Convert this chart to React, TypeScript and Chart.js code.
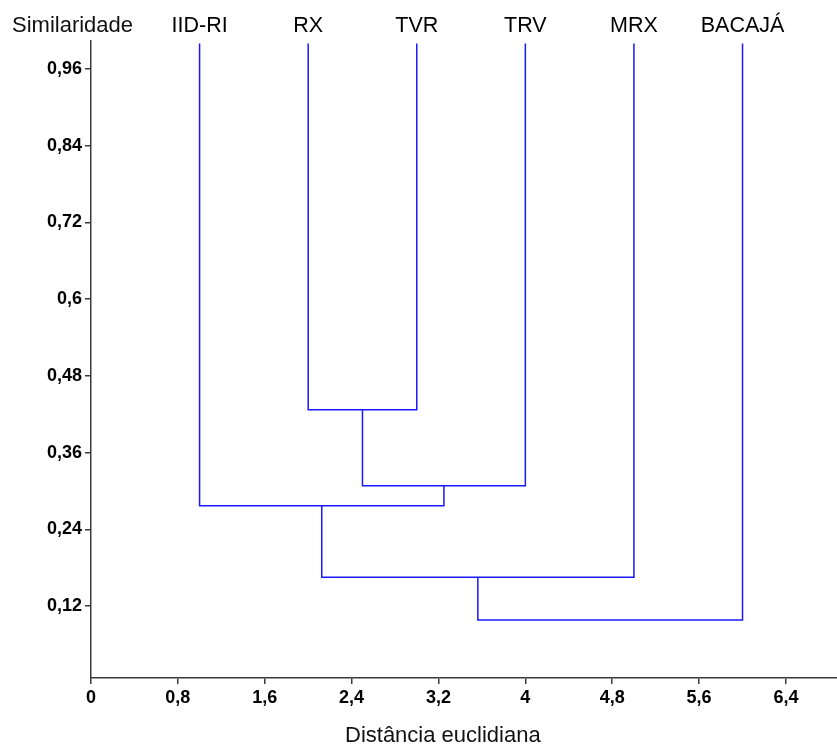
import React, { useEffect, useRef } from "react";
import { Chart, registerables } from "chart.js";

Chart.register(...registerables);

// ---- data ----
const leafLabels = ["IID-RI", "RX", "TVR", "TRV", "MRX", "BACAJÁ"];
const leafPositions = [1, 2, 3, 4, 5, 6];
const leafSimilarity = 1.0;
// merges (node ids: 0-5 leaves, 6+ merges in order)
const mergeLeft = [1, 6, 0, 8, 9];
const mergeRight = [2, 3, 7, 4, 5];
const mergeHeights = [0.427, 0.308, 0.277, 0.165, 0.098];

const xTickValues = [0, 0.8, 1.6, 2.4, 3.2, 4, 4.8, 5.6, 6.4];
const yTickValues = [0.12, 0.24, 0.36, 0.48, 0.6, 0.72, 0.84, 0.96];

const xTitle = "Distância euclidiana";
const yTitle = "Similaridade";

const X_MIN = 0;
const X_MAX = 6.87;
const Y_MIN = 0.0074;
const Y_MAX = 1.004;

const LINE_COLOR = "rgb(25,25,255)";
const AXIS_COLOR = "#3a3a3a";
const FONT = '"Liberation Sans", Arial, sans-serif';

function buildLinks() {
  const nodeX: number[] = [...leafPositions];
  const nodeH: number[] = leafPositions.map(() => leafSimilarity);
  const links: { x: number; y: number }[][] = [];
  mergeHeights.forEach((h, i) => {
    const l = mergeLeft[i];
    const r = mergeRight[i];
    links.push([
      { x: nodeX[l], y: nodeH[l] },
      { x: nodeX[l], y: h },
      { x: nodeX[r], y: h },
      { x: nodeX[r], y: nodeH[r] },
    ]);
    nodeX.push((nodeX[l] + nodeX[r]) / 2);
    nodeH.push(h);
  });
  return links;
}

const fmt = (v: number) => String(v).replace(".", ",");

export default function App() {
  const ref = useRef<HTMLCanvasElement | null>(null);

  useEffect(() => {
    if (!ref.current) return;
    const links = buildLinks();

    const titlesPlugin = {
      id: "titlesPlugin",
      afterDraw(chart: any) {
        const ctx = chart.ctx;
        ctx.save();
        ctx.fillStyle = "#111";
        ctx.font = `22px ${FONT}`;
        ctx.textAlign = "left";
        ctx.textBaseline = "middle";
        ctx.fillText(yTitle, 12, 26);
        ctx.fillText(xTitle, 345, 736);
        ctx.restore();
      },
    };

    const chart = new Chart(ref.current, {
      type: "scatter",
      data: {
        datasets: links.map((pts) => ({
          data: pts,
          showLine: true,
          borderColor: LINE_COLOR,
          borderWidth: 1.5,
          pointRadius: 0,
          pointHoverRadius: 0,
          tension: 0,
          fill: false,
        })),
      },
      options: {
        responsive: false,
        animation: false,
        events: [],
        layout: { padding: 0 },
        plugins: {
          legend: { display: false },
          tooltip: { enabled: false },
          title: { display: false },
        },
        scales: {
          x: {
            type: "linear",
            position: "bottom",
            min: X_MIN,
            max: X_MAX,
            afterBuildTicks: (scale: any) => {
              scale.ticks = xTickValues.map((v) => ({ value: v }));
            },
            afterFit: (scale: any) => {
              scale.height = 67;
            },
            grid: {
              display: true,
              drawOnChartArea: false,
              drawTicks: true,
              tickLength: 6,
              color: AXIS_COLOR,
              lineWidth: 1.5,
            },
            border: { display: true, color: AXIS_COLOR, width: 1.5 },
            ticks: {
              autoSkip: false,
              maxRotation: 0,
              padding: 3,
              color: "#000",
              font: { family: FONT, size: 18, weight: "bold" },
              callback: (v: any) => fmt(Number(v)),
            },
          },
          xTop: {
            type: "linear",
            position: "top",
            min: X_MIN,
            max: X_MAX,
            afterBuildTicks: (scale: any) => {
              scale.ticks = leafPositions.map((v) => ({ value: v }));
            },
            afterFit: (scale: any) => {
              scale.height = 41;
            },
            grid: { display: false, drawTicks: false },
            border: { display: false },
            ticks: {
              autoSkip: false,
              maxRotation: 0,
              padding: 2,
              color: "#000",
              font: { family: FONT, size: 21.5 },
              callback: (v: any) => {
                const i = leafPositions.indexOf(Number(v));
                return i >= 0 ? leafLabels[i] : "";
              },
            },
          },
          y: {
            type: "linear",
            position: "left",
            min: Y_MIN,
            max: Y_MAX,
            afterBuildTicks: (scale: any) => {
              scale.ticks = yTickValues.map((v) => ({ value: v }));
            },
            afterFit: (scale: any) => {
              scale.width = 91;
            },
            grid: {
              display: true,
              drawOnChartArea: false,
              drawTicks: true,
              tickLength: 6,
              color: AXIS_COLOR,
              lineWidth: 1.5,
            },
            border: { display: true, color: AXIS_COLOR, width: 1.5 },
            ticks: {
              autoSkip: false,
              padding: 3,
              color: "#000",
              font: { family: FONT, size: 18, weight: "bold" },
              callback: (v: any) => fmt(Number(v)),
            },
          },
        },
      } as any,
      plugins: [titlesPlugin],
    });

    return () => chart.destroy();
  }, []);

  return (
    <div style={{ position: "absolute", left: 0, top: 0, width: 837, height: 745, background: "#fff" }}>
      <canvas ref={ref} width={837} height={745} style={{ display: "block" }} />
    </div>
  );
}
